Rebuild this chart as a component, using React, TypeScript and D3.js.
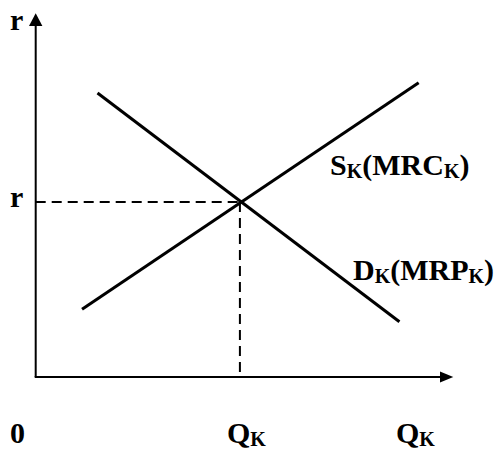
import React from "react";
import * as d3 from "d3";

// Abstract units (0..100) for both axes
const supplyPoints: [number, number][] = [
  [11.1, 18.6],
  [91.7, 80.9],
];
const demandPoints: [number, number][] = [
  [14.8, 78.1],
  [87.1, 15.2],
];
const equilibrium: [number, number] = [48.9, 48.1];

const yAxisLabel = "r";
const eqPriceLabel = "r";
const originLabel = "0";
const eqQtyLabel = ["Q", "K"];
const xAxisLabel = ["Q", "K"];
const supplyLabel = ["S", "K", "(MRC", "K", ")"];
const demandLabel = ["D", "K", "(MRP", "K", ")"];

const W = 494;
const H = 450;

export default function App() {
  const x = d3.scaleLinear().domain([0, 100]).range([35.7, 453.3]);
  const y = d3.scaleLinear().domain([0, 100]).range([377, 13.3]);
  const line = d3
    .line<[number, number]>()
    .x((d) => x(d[0]))
    .y((d) => y(d[1]));

  const x0 = x(0);
  const y0 = y(0);
  const xTip = x(100);
  const yTip = y(100);
  const font = "'Liberation Serif', 'Times New Roman', serif";

  const sub = (parts: string[]) =>
    parts.map((p, i) =>
      i % 2 === 1 ? (
        <tspan key={i} fontSize={20} dy={3}>
          {p}
        </tspan>
      ) : (
        <tspan key={i} fontSize={30} dy={i === 0 ? 0 : -3}>
          {p}
        </tspan>
      )
    );

  return (
    <svg
      width={W}
      height={H}
      style={{ position: "absolute", left: 0, top: 0, background: "#fff" }}
    >
      <g fontFamily={font} fontWeight="bold" fill="#000">
        {/* axes */}
        <line x1={x0} y1={y0} x2={x0} y2={yTip + 12.7} stroke="#000" strokeWidth={2} />
        <line x1={x0 - 1} y1={y0} x2={xTip - 13.3} y2={y0} stroke="#000" strokeWidth={2} />
        <path
          d={`M${x0},${yTip} L${x0 - 6.7},${yTip + 12.7} L${x0 + 6.7},${yTip + 12.7} Z`}
          fill="#000"
        />
        <path
          d={`M${xTip},${y0} L${xTip - 13.3},${y0 - 5.5} L${xTip - 13.3},${y0 + 5.5} Z`}
          fill="#000"
        />

        {/* dashed guides */}
        <line
          x1={x0}
          y1={y(equilibrium[1])}
          x2={x(equilibrium[0])}
          y2={y(equilibrium[1])}
          stroke="#000"
          strokeWidth={2}
          strokeDasharray="10 6"
        />
        <line
          x1={x(equilibrium[0])}
          y1={y(equilibrium[1])}
          x2={x(equilibrium[0])}
          y2={y0}
          stroke="#000"
          strokeWidth={2}
          strokeDasharray="10 6"
        />

        {/* curves */}
        <path d={line(supplyPoints) || ""} stroke="#000" strokeWidth={3} fill="none" />
        <path d={line(demandPoints) || ""} stroke="#000" strokeWidth={3} fill="none" />

        {/* labels */}
        <text x={10} y={30} fontSize={30}>
          {yAxisLabel}
        </text>
        <text x={10} y={207} fontSize={30}>
          {eqPriceLabel}
        </text>
        <text x={10} y={443} fontSize={30}>
          {originLabel}
        </text>
        <text x={227} y={443}>{sub(eqQtyLabel)}</text>
        <text x={396} y={443}>{sub(xAxisLabel)}</text>
        <text x={330} y={175}>{sub(supplyLabel)}</text>
        <text x={353} y={280}>{sub(demandLabel)}</text>
      </g>
    </svg>
  );
}
